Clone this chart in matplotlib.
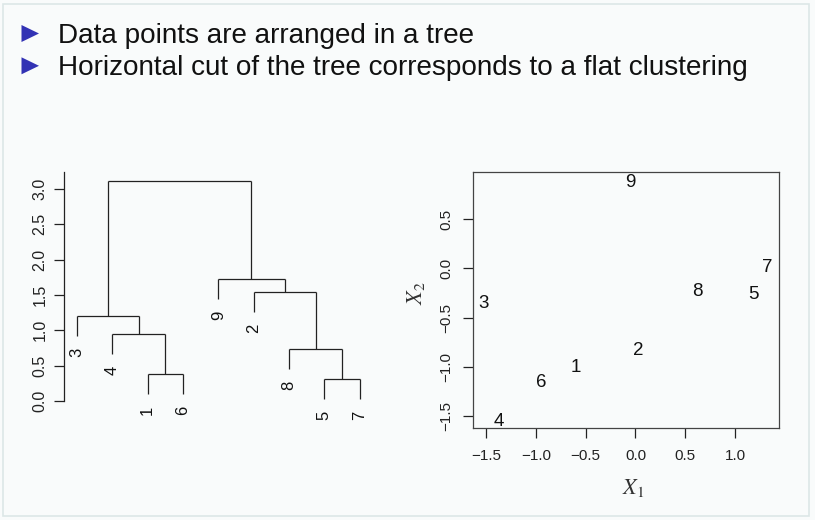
import matplotlib
matplotlib.use("Agg")
import matplotlib.pyplot as plt
from matplotlib.patches import Polygon, Rectangle
from matplotlib import font_manager

# ---------------- data ----------------
bullets = ["Data points are arranged in a tree",
           "Horizontal cut of the tree corresponds to a flat clustering"]

# dendrogram: leaf order and merges (child ids: "L<label>" leaf, "M<i>" merge index)
leaf_order = ["3", "4", "1", "6", "9", "2", "8", "5", "7"]
merges = [("L1", "L6", 0.377),
          ("L4", "M0", 0.943),
          ("L3", "M1", 1.203),
          ("L5", "L7", 0.307),
          ("L8", "M3", 0.736),
          ("L2", "M4", 1.547),
          ("L9", "M5", 1.722),
          ("M2", "M6", 3.108)]
hang = 0.283
dend_yticks = [0.0, 0.5, 1.0, 1.5, 2.0, 2.5, 3.0]

# scatter points
pt_labels = ["1", "2", "3", "4", "5", "6", "7", "8", "9"]
pt_x = [-0.597, 0.025, -1.52, -1.37, 1.181, -0.941, 1.318, 0.62, -0.049]
pt_y = [-1.01, -0.83, -0.355, -1.552, -0.26, -1.158, 0.012, -0.229, 0.876]
sc_xticks = [-1.5, -1.0, -0.5, 0.0, 0.5, 1.0]
sc_yticks = [-1.5, -1.0, -0.5, 0.0, 0.5]

def fmt(v):
    s = "%.1f" % abs(v)
    return ("\u2212" + s) if v < 0 else s

# ---------------- fonts ----------------
names = {f.name for f in font_manager.fontManager.ttflist}
chart_font = "Liberation Sans" if "Liberation Sans" in names else "DejaVu Sans"
plt.rcParams["font.family"] = [chart_font, "DejaVu Sans"]
plt.rcParams["mathtext.fontset"] = "stix"

W, H = 815, 520
fig = plt.figure(figsize=(W / 100, H / 100), dpi=100)
fig.patch.set_facecolor("#f9fbfb")

def px_axes(left, top, right, bottom):
    return fig.add_axes([left / W, 1 - bottom / H, (right - left) / W, (bottom - top) / H])

# slide frame
fig.patches.append(Rectangle((3 / W, 4 / H), (809 - 3) / W, (516 - 4) / H,
                             transform=fig.transFigure, fill=False,
                             edgecolor="#dde7e7", linewidth=1.2))

# bullets + text
tri_col = "#3232b4"
for i, txt in enumerate(bullets):
    y0 = 33.5 + 32.3 * i  # pixel centre of triangle
    tri = [(21.5 / W, 1 - (y0 - 8.5) / H), (21.5 / W, 1 - (y0 + 8.5) / H), (39 / W, 1 - y0 / H)]
    fig.patches.append(Polygon(tri, closed=True, transform=fig.transFigure,
                               facecolor=tri_col, edgecolor="none"))
    fig.text(58 / W, 1 - (43 + 32.3 * i) / H, txt, fontsize=20.1,
             color="#111111", va="baseline", ha="left")

# ---------------- dendrogram ----------------
ax1 = px_axes(64, 172, 371, 420)
ax1.set_facecolor("none")
leaf_x = {lab: i + 1 for i, lab in enumerate(leaf_order)}
node_pos = {}
for lab, x in leaf_x.items():
    node_pos["L" + lab] = (x, None)
lc = "#222222"
for i, (a, b, h) in enumerate(merges):
    xs = []
    for c in (a, b):
        x, hc = node_pos[c]
        if hc is None:  # leaf
            ax1.plot([x, x], [h - hang, h], color=lc, lw=0.9, solid_capstyle="butt")
            ax1.annotate(c[1:], (x, h - hang), xytext=(0, -8.3), textcoords="offset points",
                         rotation=90, ha="center", va="top", fontsize=12, color="#111111")
        else:
            ax1.plot([x, x], [hc, h], color=lc, lw=0.9, solid_capstyle="butt")
        xs.append(x)
    ax1.plot([xs[0], xs[1]], [h, h], color=lc, lw=0.9, solid_capstyle="butt")
    node_pos["M%d" % i] = ((xs[0] + xs[1]) / 2, h)

ax1.set_xlim(0.633, 9.32)
ax1.set_ylim(-0.269, 3.24)
for s in ("top", "right", "bottom"):
    ax1.spines[s].set_visible(False)
ax1.spines["left"].set_bounds(0, 3.24)
ax1.spines["left"].set_color("#222222")
ax1.spines["left"].set_linewidth(0.9)
ax1.set_xticks([])
ax1.set_yticks(dend_yticks)
ax1.set_yticklabels([fmt(v) for v in dend_yticks])
ax1.tick_params(axis="y", length=7, width=0.9, pad=5, labelsize=11.5, colors="#222222")
for t in ax1.get_yticklabels():
    t.set_rotation(90)
    t.set_va("center")

# ---------------- scatter ----------------
ax2 = px_axes(473, 172, 779, 428)
ax2.set_facecolor("none")
for lab, x, y in zip(pt_labels, pt_x, pt_y):
    ax2.text(x, y, lab, ha="center", va="center", fontsize=13.5, color="#111111")
ax2.set_xlim(-1.63, 1.44)
ax2.set_ylim(-1.62, 0.98)
ax2.set_xticks(sc_xticks)
ax2.set_xticklabels([fmt(v) for v in sc_xticks])
ax2.set_yticks(sc_yticks)
ax2.set_yticklabels([fmt(v) for v in sc_yticks])
for s in ax2.spines.values():
    s.set_color("#444444")
    s.set_linewidth(0.9)
ax2.tick_params(length=7, width=0.9, labelsize=11, colors="#222222")
ax2.tick_params(axis="x", pad=8)
ax2.tick_params(axis="y", pad=7)
for t in ax2.get_yticklabels():
    t.set_rotation(90)
    t.set_va("center")
fig.text(633 / W, 1 - 488 / H, r"$X_1$", ha="center", va="center", fontsize=16, color="#333333")
fig.text(416 / W, 1 - 293 / H, r"$X_2$", ha="center", va="center", fontsize=16,
         rotation=90, color="#333333")

fig.savefig("out.png", dpi=100, facecolor=fig.get_facecolor())
